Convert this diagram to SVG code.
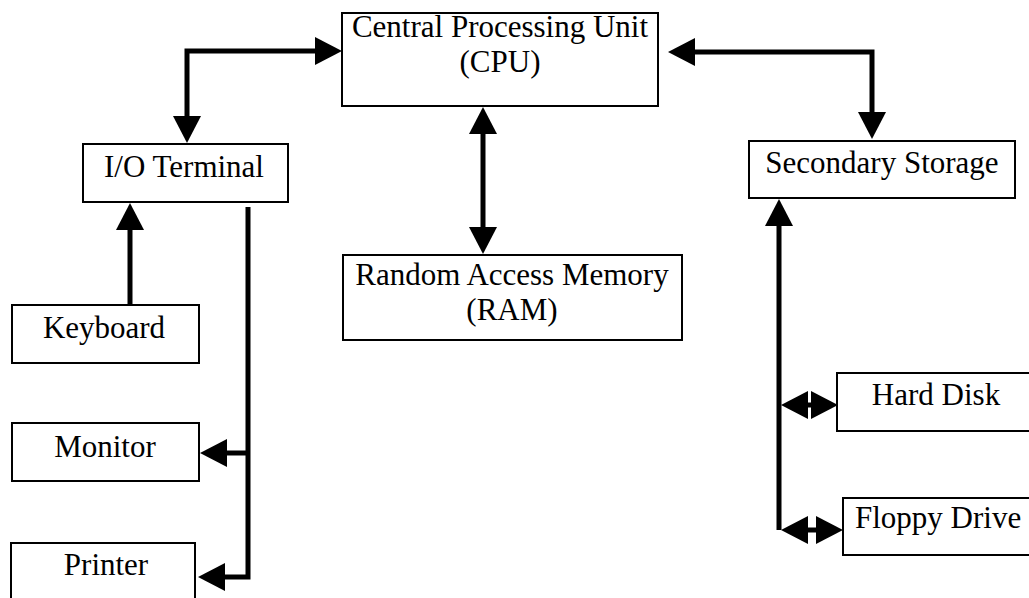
<svg xmlns="http://www.w3.org/2000/svg" width="1029" height="598" viewBox="0 0 1029 598">
<style>
.box{fill:#fff;stroke:#000;stroke-width:2}
.lbl{font-family:"Liberation Serif","Times New Roman",serif;font-size:31px;fill:#000;text-anchor:middle}
.wire{fill:none;stroke:#000;stroke-width:5;stroke-linejoin:miter}
</style>
<defs>
<marker id="ah" viewBox="0 0 28 28" refX="0" refY="14" markerWidth="28" markerHeight="28" markerUnits="userSpaceOnUse" orient="auto-start-reverse">
<path d="M0,0 L27,14 L0,28 Z" fill="#000"/>
</marker>
</defs>
<rect width="1029" height="598" fill="#fff"/>
<g id="connectors">
<path class="wire" d="M315,51 H187 V116" marker-start="url(#ah)" marker-end="url(#ah)"/>
<path class="wire" d="M695,52 H872 V112" marker-start="url(#ah)" marker-end="url(#ah)"/>
<path class="wire" d="M483,134 V227" marker-start="url(#ah)" marker-end="url(#ah)"/>
<path class="wire" d="M130,305 V230" marker-end="url(#ah)"/>
<path class="wire" d="M248,207 V577 H225" marker-end="url(#ah)"/>
<path class="wire" d="M248,453 H227" marker-end="url(#ah)"/>
<path class="wire" d="M779,530 V226" marker-end="url(#ah)"/>
<path class="wire" d="M808,405 H811" marker-start="url(#ah)" marker-end="url(#ah)"/>
<path class="wire" d="M808,530 H816" marker-start="url(#ah)" marker-end="url(#ah)"/>
</g>
<g id="cpu">
<rect class="box" x="342" y="13" width="316" height="93"/>
<text class="lbl" x="500" y="37">Central Processing Unit</text>
<text class="lbl" x="500" y="72">(CPU)</text>
</g>
<g id="io-terminal">
<rect class="box" x="83" y="144" width="205" height="58"/>
<text class="lbl" x="184" y="177">I/O Terminal</text>
</g>
<g id="ram">
<rect class="box" x="343" y="255" width="339" height="85"/>
<text class="lbl" x="512" y="285">Random Access Memory</text>
<text class="lbl" x="512" y="320">(RAM)</text>
</g>
<g id="secondary-storage">
<rect class="box" x="749" y="141" width="266" height="57"/>
<text class="lbl" x="882" y="173">Secondary Storage</text>
</g>
<g id="keyboard">
<rect class="box" x="12" y="305" width="187" height="58"/>
<text class="lbl" x="104" y="338">Keyboard</text>
</g>
<g id="monitor">
<rect class="box" x="12" y="423" width="187" height="58"/>
<text class="lbl" x="105" y="457">Monitor</text>
</g>
<g id="printer">
<rect class="box" x="11" y="543" width="184" height="70"/>
<text class="lbl" x="106" y="575">Printer</text>
</g>
<g id="hard-disk">
<rect class="box" x="837" y="373" width="200" height="58"/>
<text class="lbl" x="936" y="405">Hard Disk</text>
</g>
<g id="floppy-drive">
<rect class="box" x="843" y="498" width="200" height="57"/>
<text class="lbl" x="855" y="528" style="text-anchor:start">Floppy Drive</text>
</g>
</svg>
